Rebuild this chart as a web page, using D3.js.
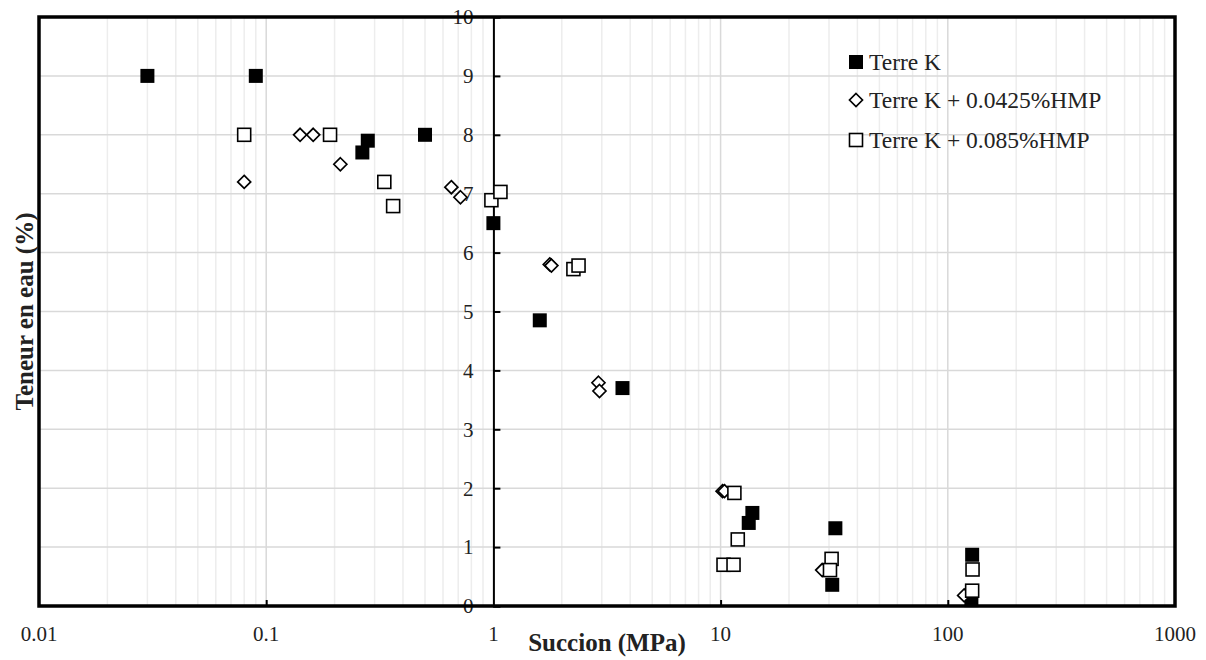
<!DOCTYPE html>
<html>
<head>
<meta charset="utf-8">
<script src="https://cdn.jsdelivr.net/npm/d3@7"></script>
<style>
  html, body { margin: 0; padding: 0; background: #fff; }
  svg text { font-family: "Liberation Serif", "Times New Roman", serif; fill: #222; }
</style>
</head>
<body>
<svg id="chart" width="1206" height="660"></svg>
<script>
// ---- data ----
const seriesNames = ["Terre K", "Terre K + 0.0425%HMP", "Terre K + 0.085%HMP"];

const terreK_x = [0.03, 0.09, 0.28, 0.265, 0.5, 1.0, 1.6, 3.7, 13.8, 13.3, 32, 31, 128, 127];
const terreK_y = [9.0, 9.0, 7.9, 7.7, 8.0, 6.5, 4.85, 3.7, 1.58, 1.41, 1.32, 0.36, 0.87, 0.1];

const hmp0425_x = [0.08, 0.141, 0.161, 0.212, 0.653, 0.716, 1.77, 1.8, 2.9, 2.93, 10.2, 10.4, 28, 118];
const hmp0425_y = [7.2, 8.0, 8.0, 7.5, 7.11, 6.94, 5.8, 5.78, 3.79, 3.65, 1.95, 1.95, 0.61, 0.18];

const hmp085_x = [0.08, 0.191, 0.331, 0.362, 0.98, 1.074, 2.25, 2.37, 11.5, 11.9, 10.3, 11.4, 30.8, 30.3, 128.5, 128];
const hmp085_y = [8.0, 8.0, 7.2, 6.79, 6.89, 7.03, 5.72, 5.78, 1.92, 1.13, 0.70, 0.70, 0.80, 0.61, 0.62, 0.26];

const xTickValues = [0.01, 0.1, 1, 10, 100, 1000];
const xTickLabels = ["0.01", "0.1", "1", "10", "100", "1000"];
const yTickValues = [0, 1, 2, 3, 4, 5, 6, 7, 8, 9, 10];

const xTitle = "Succion (MPa)";
const yTitle = "Teneur en eau (%)";

// ---- layout ----
const L = 39, R = 1175, T = 17, B = 606;
const svg = d3.select("#chart");

const x = d3.scaleLog().domain([0.01, 1000]).range([L, R]);
const y = d3.scaleLinear().domain([0, 10]).range([B, T]);

// minor vertical grid
const minorX = [];
for (let e = -2; e < 3; e++) for (let m = 2; m <= 9; m++) minorX.push(m * Math.pow(10, e));
svg.append("g").selectAll("line").data(minorX).join("line")
  .attr("x1", d => x(d)).attr("x2", d => x(d)).attr("y1", T).attr("y2", B)
  .attr("stroke", "#ededed").attr("stroke-width", 1.5);
// major vertical grid
svg.append("g").selectAll("line").data([0.1, 10, 100]).join("line")
  .attr("x1", d => x(d)).attr("x2", d => x(d)).attr("y1", T).attr("y2", B)
  .attr("stroke", "#d9d9d9").attr("stroke-width", 1.5);
// horizontal grid
svg.append("g").selectAll("line").data(yTickValues.filter(v => v > 0 && v < 10)).join("line")
  .attr("x1", L).attr("x2", R).attr("y1", d => y(d)).attr("y2", d => y(d))
  .attr("stroke", "#d9d9d9").attr("stroke-width", 1.5);

// y axis at x = 1
const yAxis = d3.axisRight(y).tickValues(yTickValues).tickSize(7).tickFormat("");
const gy = svg.append("g").attr("transform", `translate(${x(1)},0)`).call(yAxis);
gy.select(".domain").attr("stroke", "#000").attr("stroke-width", 2);
gy.selectAll(".tick line").attr("stroke", "#000").attr("stroke-width", 2);

// y tick labels (left of axis)
svg.append("g").selectAll("text").data(yTickValues).join("text")
  .attr("x", x(1) - 20).attr("y", d => y(d)).attr("dy", "0.35em")
  .attr("text-anchor", "end").attr("font-size", 21).text(d => d);

// x axis ticks (inside, upward)
const xAxis = d3.axisTop(x).tickValues([0.1, 10, 100]).tickSize(6).tickFormat("");
const gx = svg.append("g").attr("transform", `translate(0,${B})`).call(xAxis);
gx.select(".domain").remove();
gx.selectAll(".tick line").attr("stroke", "#000").attr("stroke-width", 2);

// x tick labels
svg.append("g").selectAll("text").data(xTickValues).join("text")
  .attr("x", d => x(d)).attr("y", 634).attr("dy", "0.35em")
  .attr("text-anchor", "middle").attr("font-size", 21)
  .text((d, i) => xTickLabels[i]);

// border
svg.append("rect").attr("x", L).attr("y", T).attr("width", R - L).attr("height", B - T)
  .attr("fill", "none").attr("stroke", "#000").attr("stroke-width", 3.5);

// axis titles
svg.append("text").attr("x", (L + R) / 2).attr("y", 651)
  .attr("text-anchor", "middle").attr("font-size", 25).attr("font-weight", "bold").text(xTitle);
svg.append("text").attr("transform", `translate(33,${(T + B) / 2}) rotate(-90)`)
  .attr("text-anchor", "middle").attr("font-size", 25).attr("font-weight", "bold").text(yTitle);

// markers
const sq = 14;
const zip = (xs, ys) => xs.map((v, i) => ({ x: v, y: ys[i] }));

svg.append("g").selectAll("rect").data(zip(terreK_x, terreK_y)).join("rect")
  .attr("x", d => x(d.x) - sq / 2).attr("y", d => y(d.y) - sq / 2)
  .attr("width", sq).attr("height", sq).attr("fill", "#000");

svg.append("g").selectAll("path").data(zip(hmp0425_x, hmp0425_y)).join("path")
  .attr("transform", d => `translate(${x(d.x)},${y(d.y)})`)
  .attr("d", "M0,-6.5L6.5,0L0,6.5L-6.5,0Z")
  .attr("fill", "#fff").attr("stroke", "#000").attr("stroke-width", 1.7);

svg.append("g").selectAll("rect").data(zip(hmp085_x, hmp085_y)).join("rect")
  .attr("x", d => x(d.x) - 6.5).attr("y", d => y(d.y) - 6.5)
  .attr("width", 13).attr("height", 13)
  .attr("fill", "#fff").attr("stroke", "#000").attr("stroke-width", 1.6);

// legend
const lg = svg.append("g");
const legY = [62, 100, 140];
const lx = 856;
lg.append("rect").attr("x", lx - 7).attr("y", legY[0] - 7).attr("width", 14).attr("height", 14).attr("fill", "#000");
lg.append("path").attr("transform", `translate(${lx},${legY[1]})`).attr("d", "M0,-6.5L6.5,0L0,6.5L-6.5,0Z")
  .attr("fill", "#fff").attr("stroke", "#000").attr("stroke-width", 1.7);
lg.append("rect").attr("x", lx - 6.5).attr("y", legY[2] - 6.5).attr("width", 13).attr("height", 13)
  .attr("fill", "#fff").attr("stroke", "#000").attr("stroke-width", 1.6);
lg.selectAll("text").data(seriesNames).join("text")
  .attr("x", 869).attr("y", (d, i) => legY[i]).attr("dy", "0.35em")
  .attr("font-size", 23.5).text(d => d);
</script>
</body>
</html>
